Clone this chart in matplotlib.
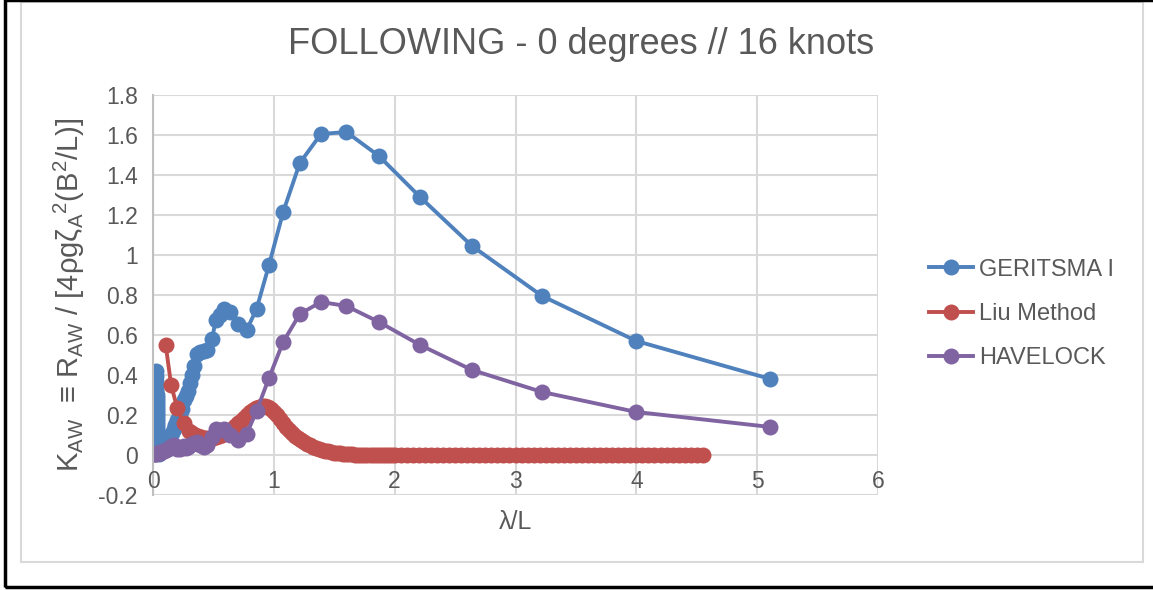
import matplotlib
matplotlib.use("Agg")
import matplotlib.pyplot as plt
from matplotlib.patches import Rectangle

plt.rcParams['font.family'] = ['Liberation Sans', 'DejaVu Sans']
plt.rcParams['mathtext.fontset'] = 'custom'
plt.rcParams['mathtext.rm'] = 'Liberation Sans'

# GERITSMA I and HAVELOCK share the wave length grid
wave_gh = [5.11, 4.00, 3.22, 2.64, 2.21, 1.87, 1.60, 1.39, 1.215, 1.077,
           0.96, 0.857, 0.775, 0.70, 0.64, 0.587, 0.555, 0.518, 0.49, 0.45,
           0.42, 0.39, 0.366, 0.34, 0.325, 0.31, 0.29, 0.275, 0.256, 0.24,
           0.22, 0.20, 0.185, 0.17, 0.155, 0.14, 0.125, 0.11, 0.095, 0.08,
           0.065, 0.055]
geritsma = [0.38, 0.57, 0.795, 1.045, 1.29, 1.495, 1.615, 1.605, 1.46, 1.215,
            0.95, 0.73, 0.625, 0.655, 0.715, 0.73, 0.70, 0.675, 0.58, 0.525,
            0.52, 0.515, 0.505, 0.445, 0.40, 0.36, 0.32, 0.295, 0.275, 0.23,
            0.20, 0.175, 0.15, 0.13, 0.11, 0.095, 0.08, 0.065, 0.05, 0.035,
            0.02, 0.01]
havelock = [0.14, 0.215, 0.315, 0.425, 0.55, 0.665, 0.745, 0.765, 0.705, 0.565,
            0.385, 0.22, 0.105, 0.075, 0.10, 0.13, 0.125, 0.13, 0.09, 0.05,
            0.04, 0.05, 0.065, 0.06, 0.055, 0.05, 0.04, 0.035, 0.045, 0.04,
            0.03, 0.03, 0.045, 0.05, 0.045, 0.04, 0.03, 0.025, 0.02, 0.02,
            0.015, 0.012]

# short waves: GERITSMA climbs in a near-vertical column, HAVELOCK stays flat
wave_g_short = [0.048, 0.045, 0.043, 0.041, 0.040, 0.039, 0.038, 0.037, 0.036,
                0.035, 0.034, 0.033, 0.0325, 0.032, 0.0315, 0.031, 0.0305,
                0.030, 0.0295, 0.029, 0.0285, 0.028, 0.027, 0.026, 0.025,
                0.024]
geritsma_short = [0.005, 0.02, 0.04, 0.06, 0.075, 0.09, 0.105, 0.12, 0.135,
                  0.15, 0.165, 0.18, 0.195, 0.21, 0.225, 0.24, 0.255,
                  0.27, 0.285, 0.30, 0.315, 0.33, 0.35, 0.37, 0.395,
                  0.42]
wave_h_short = [0.045, 0.035, 0.025, 0.015, 0.008, 0.004]
havelock_short = [0.01, 0.008, 0.006, 0.005, 0.005, 0.005]

wave_liu = [0.105, 0.15, 0.20, 0.255,
            0.300, 0.325, 0.350, 0.375, 0.400, 0.425, 0.450, 0.475, 0.500,
            0.525, 0.550, 0.575, 0.600, 0.625, 0.650, 0.675, 0.700, 0.725,
            0.750, 0.775, 0.800, 0.825, 0.850, 0.875, 0.900, 0.925, 0.950,
            0.975, 1.000, 1.025, 1.050, 1.075, 1.100, 1.125, 1.150, 1.175,
            1.200, 1.225, 1.250, 1.275, 1.300, 1.325, 1.350, 1.375, 1.400,
            1.425, 1.450, 1.475, 1.500, 1.525, 1.550, 1.575, 1.600, 1.625,
            1.650, 1.675, 1.700, 1.725, 1.750, 1.775, 1.800, 1.825, 1.850,
            1.875, 1.900, 1.925, 1.950, 1.975, 2.000,
            2.05, 2.10, 2.15, 2.20, 2.25, 2.30, 2.35, 2.40, 2.45, 2.50,
            2.55, 2.60, 2.65, 2.70, 2.75, 2.80, 2.85, 2.90, 2.95, 3.00,
            3.05, 3.10, 3.15, 3.20, 3.25, 3.30, 3.35, 3.40, 3.45, 3.50,
            3.55, 3.60, 3.65, 3.70, 3.75, 3.80, 3.85, 3.90, 3.95, 4.00,
            4.05, 4.10, 4.15, 4.20, 4.25, 4.30, 4.35, 4.40, 4.45, 4.50,
            4.55]
liu = [0.55, 0.35, 0.235, 0.16,
       0.12, 0.108, 0.10, 0.094, 0.09, 0.087, 0.085, 0.084, 0.085,
       0.089, 0.095, 0.102, 0.11, 0.12, 0.13, 0.145, 0.16, 0.172,
       0.185, 0.20, 0.215, 0.226, 0.235, 0.241, 0.245, 0.244, 0.24,
       0.229, 0.215, 0.198, 0.18, 0.16, 0.14, 0.124, 0.11, 0.097,
       0.085, 0.075, 0.065, 0.056, 0.048, 0.041, 0.035, 0.03, 0.025,
       0.021, 0.018, 0.015, 0.012, 0.01, 0.008, 0.006, 0.005, 0.004,
       0.003, 0.0025, 0.002, 0.0015, 0.001, 0.0008, 0.0005, 0.0, 0.0,
       0.0, 0.0, 0.0, 0.0, 0.0, 0.0] + [0.0] * 51

x_ticks = [0, 1, 2, 3, 4, 5, 6]
y_ticks = [-0.2, 0, 0.2, 0.4, 0.6, 0.8, 1, 1.2, 1.4, 1.6, 1.8]

blue = '#4F81BD'
red = '#C0504D'
purple = '#8064A2'
text_grey = '#595959'
grid_grey = '#D9D9D9'

fig = plt.figure(figsize=(11.53, 5.90), dpi=100)
ax = fig.add_axes([153 / 1153, 1 - 495 / 590, 725 / 1153, 400 / 590])

style = dict(lw=2.8, marker='o', ms=11.5, mew=0)
ax.plot(wave_gh + wave_g_short, geritsma + geritsma_short, color=blue,
        label='GERITSMA I', **style)
ax.plot(wave_liu, liu, color=red, label='Liu Method', **style)
ax.plot(wave_gh + wave_h_short, havelock + havelock_short, color=purple,
        label='HAVELOCK', **style)

ax.set_xlim(0, 6)
ax.set_ylim(-0.2, 1.8)
ax.set_xticks(x_ticks)
ax.set_yticks(y_ticks)
ax.set_xticklabels([])
ax.set_yticklabels(['-0.2', '0', '0.2', '0.4', '0.6', '0.8', '1', '1.2',
                    '1.4', '1.6', '1.8'])
ax.tick_params(length=0, labelsize=16.5, colors=text_grey, pad=11)
ax.grid(True, color=grid_grey, lw=1.5)
ax.set_axisbelow(True)
for side in ['top', 'right', 'bottom']:
    ax.spines[side].set_visible(False)
ax.spines['left'].set_color('#BFBFBF')
ax.spines['left'].set_linewidth(1.5)

# x tick labels sit just under the zero line, as Excel draws them
for t in x_ticks:
    ax.text(t, -0.135, str(t), ha='center', va='center', fontsize=16.5,
            color=text_grey)

ax.set_xlabel('λ/L', fontsize=18, color=text_grey, labelpad=0)
ax.set_ylabel(r'K$_{\mathregular{AW}}$  ≡ R$_{\mathregular{AW}}$ / '
              r'[4ρgζ$_{\mathregular{A}}$$^{\mathregular{2}}$'
              r'(B$^{\mathregular{2}}$/L)]',
              fontsize=21, color=text_grey, labelpad=8)
fig.text(581 / 1153, 1 - 44 / 590, 'FOLLOWING - 0 degrees // 16 knots',
         ha='center', va='center', fontsize=26, color=text_grey)

fig.legend(loc='center left', bbox_to_anchor=(908 / 1153, 1 - 314 / 590),
           frameon=False, fontsize=17, handlelength=1.85, handletextpad=0.25,
           labelspacing=0.95, labelcolor=text_grey)

# chart area border (grey) and the black frame around it
fig.patches.append(Rectangle((21 / 1153, 1 - 562 / 590), 1122 / 1153, 560 / 590,
                             transform=fig.transFigure, fill=False,
                             ec='#D9D9D9', lw=1.5))
fig.patches.append(Rectangle((4.5 / 1153, 1 - 587 / 590), 1.2, 587 / 590,
                             transform=fig.transFigure, fill=False,
                             ec='black', lw=2.5))

fig.savefig('out.png', dpi=100)
